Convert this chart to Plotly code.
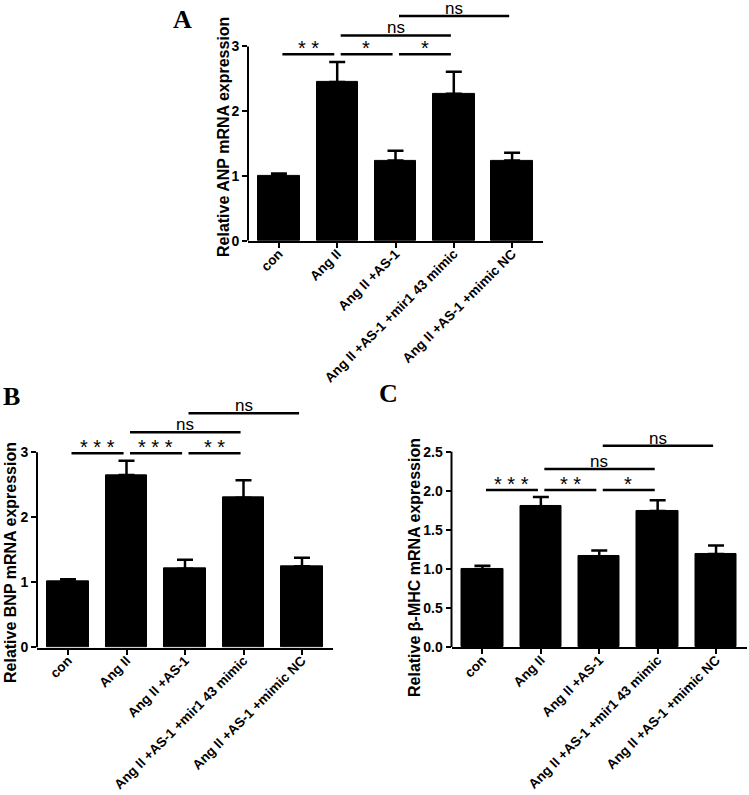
import plotly.graph_objects as go

# ---------------- data ----------------
categories = ["con", "Ang II", "Ang II +AS-1", "Ang II +AS-1 +mir1 43 mimic", "Ang II +AS-1 +mimic NC"]

anp_mean = [1.00, 2.45, 1.24, 2.27, 1.24]
anp_sem = [0.04, 0.31, 0.15, 0.34, 0.12]
bnp_mean = [1.01, 2.65, 1.21, 2.30, 1.25]
bnp_sem = [0.04, 0.22, 0.14, 0.27, 0.13]
bmhc_mean = [1.00, 1.80, 1.16, 1.74, 1.19]
bmhc_sem = [0.04, 0.12, 0.075, 0.14, 0.11]

anp_pairs = [(0, 1), (1, 2), (2, 3), (1, 3), (2, 4)]
anp_levels = [2.88, 2.88, 2.88, 3.17, 3.47]
anp_labels = ["**", "*", "*", "ns", "ns"]

bnp_pairs = [(0, 1), (1, 2), (2, 3), (1, 3), (2, 4)]
bnp_levels = [2.985, 2.985, 2.985, 3.31, 3.60]
bnp_labels = ["***", "***", "**", "ns", "ns"]

bmhc_pairs = [(0, 1), (1, 2), (2, 3), (1, 3), (2, 4)]
bmhc_levels = [2.01, 2.01, 2.01, 2.28, 2.577]
bmhc_labels = ["***", "**", "*", "ns", "ns"]

anp_ticks = [0, 1, 2, 3]
bnp_ticks = [0, 1, 2, 3]
bmhc_ticks = [0, 0.5, 1.0, 1.5, 2.0, 2.5]

# ---------------- layout geometry ----------------
W, H = 749, 795
SANS = "Arial, Liberation Sans, sans-serif"
SERIF = "Times New Roman, Liberation Serif, serif"

panels = [
    dict(mean=anp_mean, sem=anp_sem, pairs=anp_pairs, levels=anp_levels, labels=anp_labels,
         ticks=anp_ticks, fmt="d", x_px=(248, 543), y0_px=240.7, yt_px=46.5, rmax=3.55,
         title="Relative ANP mRNA expression", title_px=(224, 137), letter="A", letter_px=(182, 20)),
    dict(mean=bnp_mean, sem=bnp_sem, pairs=bnp_pairs, levels=bnp_levels, labels=bnp_labels,
         ticks=bnp_ticks, fmt="d", x_px=(37, 333), y0_px=647.5, yt_px=452.3, rmax=3.66,
         title="Relative BNP mRNA expression", title_px=(10, 563), letter="B", letter_px=(11, 396)),
    dict(mean=bmhc_mean, sem=bmhc_sem, pairs=bmhc_pairs, levels=bmhc_levels, labels=bmhc_labels,
         ticks=bmhc_ticks, fmt=".1f", x_px=(451.5, 747), y0_px=647, yt_px=451.7, rmax=2.65,
         title="Relative β-MHC mRNA expression", title_px=(414, 568), letter="C", letter_px=(388, 393)),
]

fig = go.Figure()
annotations = []
shapes = []
xs = list(range(len(categories)))

for k, p in enumerate(panels):
    sfx = "" if k == 0 else str(k + 1)
    xa, ya = "x" + sfx, "y" + sfx
    top_tick = p["ticks"][-1]
    per = (p["y0_px"] - p["yt_px"]) / top_tick
    top_px = p["y0_px"] - p["rmax"] * per
    ydom = [1 - p["y0_px"] / H, 1 - top_px / H]
    xdom = [p["x_px"][0] / W, p["x_px"][1] / W]

    fig.add_trace(go.Bar(
        x=xs, y=p["mean"], width=0.71, xaxis=xa, yaxis=ya,
        marker=dict(color="black", line=dict(color="black", width=1)),
        error_y=dict(type="data", array=p["sem"], arrayminus=[0] * len(p["sem"]),
                     symmetric=False, color="black", thickness=2.5, width=8),
        showlegend=False, hoverinfo="skip"))

    bx, by = [], []
    for (i, j), lvl, lab in zip(p["pairs"], p["levels"], p["labels"]):
        bx += [i + 0.06, j - 0.05, None]
        by += [lvl, lvl, None]
        is_star = set(lab) == {"*"}
        annotations.append(dict(
            x=(i + j) / 2, y=lvl, xref=xa, yref=ya, showarrow=False,
            text=" ".join(lab) if is_star else lab, yanchor="bottom",
            yshift=-7 if is_star else -4,
            font=dict(family=SANS, size=20 if is_star else 17, color="black")))
    fig.add_trace(go.Scatter(x=bx, y=by, mode="lines", xaxis=xa, yaxis=ya,
                             line=dict(color="black", width=2.5),
                             showlegend=False, hoverinfo="skip"))

    # y axis line only up to the top tick
    shapes.append(dict(type="line", xref=xa + " domain", yref=ya, x0=0, x1=0,
                       y0=0, y1=top_tick, line=dict(color="black", width=2)))

    fig.layout["xaxis" + sfx] = dict(
        domain=xdom, anchor=ya, range=[-0.53, 4.53], tickmode="array",
        tickvals=xs, ticktext=categories, tickangle=-45, ticks="outside",
        ticklen=5, tickwidth=2, tickcolor="black", showline=True, linecolor="black",
        linewidth=2, showgrid=False, zeroline=False, automargin=False,
        ticklabelstandoff=-7,
        tickfont=dict(family=SANS, size=13.5, color="black", weight="bold"))
    fig.layout["yaxis" + sfx] = dict(
        domain=ydom, anchor=xa, range=[0, p["rmax"]], tickmode="array",
        tickvals=p["ticks"], ticktext=[format(t, p["fmt"]) if p["fmt"] != "d" else str(int(t)) for t in p["ticks"]],
        ticks="outside", ticklen=5, tickwidth=2, tickcolor="black", showline=False,
        showgrid=False, zeroline=False, automargin=False,
        tickfont=dict(family=SANS, size=14, color="black", weight="bold"))

    annotations.append(dict(
        x=p["title_px"][0] / W, y=1 - p["title_px"][1] / H, xref="paper", yref="paper",
        text=p["title"], textangle=-90, showarrow=False, xanchor="center", yanchor="middle",
        font=dict(family=SANS, size=16, color="black", weight="bold")))
    annotations.append(dict(
        x=p["letter_px"][0] / W, y=1 - p["letter_px"][1] / H, xref="paper", yref="paper",
        text=p["letter"], showarrow=False, xanchor="center", yanchor="middle",
        font=dict(family=SERIF, size=26, color="black", weight="bold")))

fig.update_layout(
    width=W, height=H, margin=dict(l=0, r=0, t=0, b=0),
    paper_bgcolor="white", plot_bgcolor="white",
    annotations=annotations, shapes=shapes, bargap=0)

fig.write_html("out.html", config={"displayModeBar": False},
               post_script="document.body.style.margin='0';document.body.style.overflow='hidden';")
